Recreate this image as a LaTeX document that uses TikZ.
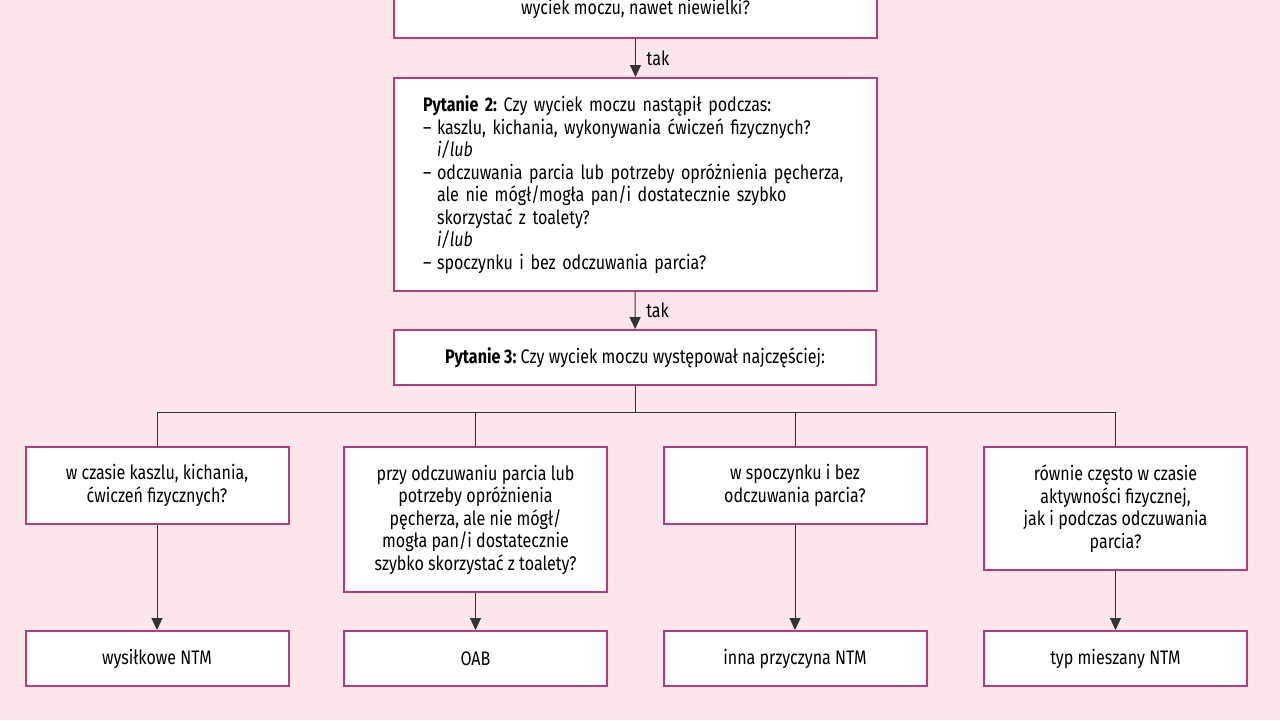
\documentclass[tikz,border=0pt]{standalone}
\usepackage{fontspec}
\setmainfont{Fira Sans}[FakeStretch=0.82]
\usetikzlibrary{arrows.meta}

\definecolor{bgpink}{HTML}{FCE6EB}
\definecolor{boxmag}{HTML}{B83A7A}
\definecolor{linegray}{HTML}{333333}

\newcommand{\lidash}{\makebox[7pt][l]{--}}
\newcommand{\liskip}{\hspace*{7pt}}

\tikzset{
	qbox/.style={draw=boxmag, line width=1pt, fill=white, align=center, inner sep=3pt,
		font={\fontsize{9.8}{11.25}\selectfont\frenchspacing}, minimum width=131.5pt},
	flow/.style={draw=linegray, line width=0.5pt},
	arr/.style={flow, -{Triangle[length=6pt,width=5.5pt]}},
}

\begin{document}
\begin{tikzpicture}[x=0.5pt, y=-0.5pt]
	\useasboundingbox (0, 0) rectangle (1280, 720);
	\clip (0, 0) rectangle (1280, 720);
	\fill [bgpink] (0, 0) rectangle (1280, 720);

	% questions
	\draw node[qbox, minimum width=241.5pt, minimum height=29pt] at (635.5, 9) (box1) {wyciek moczu, nawet niewielki?};
	\draw node[qbox, minimum width=241.5pt, minimum height=106.5pt, align=left, text width=212.5pt] at (635.5, 184.5) (box2)
		{\textbf{Pytanie 2:} Czy wyciek moczu nastąpił podczas:\\
		\lidash kaszlu, kichania, wykonywania ćwiczeń fizycznych?\\
		\liskip\textit{i/lub}\\
		\lidash odczuwania parcia lub potrzeby opróżnienia pęcherza,\\
		\liskip ale nie mógł/mogła pan/i dostatecznie szybko\\
		\liskip skorzystać z toalety?\\
		\liskip\textit{i/lub}\\
		\lidash spoczynku i bez odczuwania parcia?};
	\draw node[qbox, minimum width=241pt, minimum height=27.5pt] at (635, 357.5) (box3)
		{\textbf{Pytanie 3:} Czy wyciek moczu występował najczęściej:};

	% answers
	\draw node[qbox, minimum height=38.5pt] at (157, 485.5) (qa) {w czasie kaszlu, kichania,\\ ćwiczeń fizycznych?};
	\draw node[qbox, minimum height=72.5pt] at (475.5, 519.5) (qb) {przy odczuwaniu parcia lub\\ potrzeby opróżnienia\\ pęcherza, ale nie mógł/\\ mogła pan/i dostatecznie\\ szybko skorzystać z toalety?};
	\draw node[qbox, minimum height=38.5pt] at (795, 485.5) (qc) {w spoczynku i bez\\ odczuwania parcia?};
	\draw node[qbox, minimum height=61.5pt] at (1115.5, 508.5) (qd) {równie często w czasie\\ aktywności fizycznej,\\ jak i podczas odczuwania\\ parcia?};

	% results
	\draw node[qbox, minimum height=27.5pt] at (157, 658.5) (ra) {wysiłkowe NTM};
	\draw node[qbox, minimum height=27.5pt] at (475.5, 658.5) (rb) {OAB};
	\draw node[qbox, minimum height=27.5pt] at (795, 658.5) (rc) {inna przyczyna NTM};
	\draw node[qbox, minimum height=27.5pt] at (1115.5, 658.5) (rd) {typ mieszany NTM};

	\coordinate (bus) at (635, 412);

	\draw [arr] (box1) -- (box2) node[pos=.5, right=2pt, font={\fontsize{9.8}{11}\selectfont}] {tak};
	\draw [arr] (box2) -- (box3) node[pos=.5, right=2pt, font={\fontsize{9.8}{11}\selectfont}] {tak};

	\draw [flow] (box3) -- (bus);
	\draw [flow] (qa.north) -- (qa.north |- bus) -- (qd.north |- bus) -- (qd.north);
	\draw [flow] (qb.north) -- (qb.north |- bus);
	\draw [flow] (qc.north) -- (qc.north |- bus);

	\draw [arr] (qa) -- (ra);
	\draw [arr] (qb) -- (rb);
	\draw [arr] (qc) -- (rc);
	\draw [arr] (qd) -- (rd);
\end{tikzpicture}
\end{document}
